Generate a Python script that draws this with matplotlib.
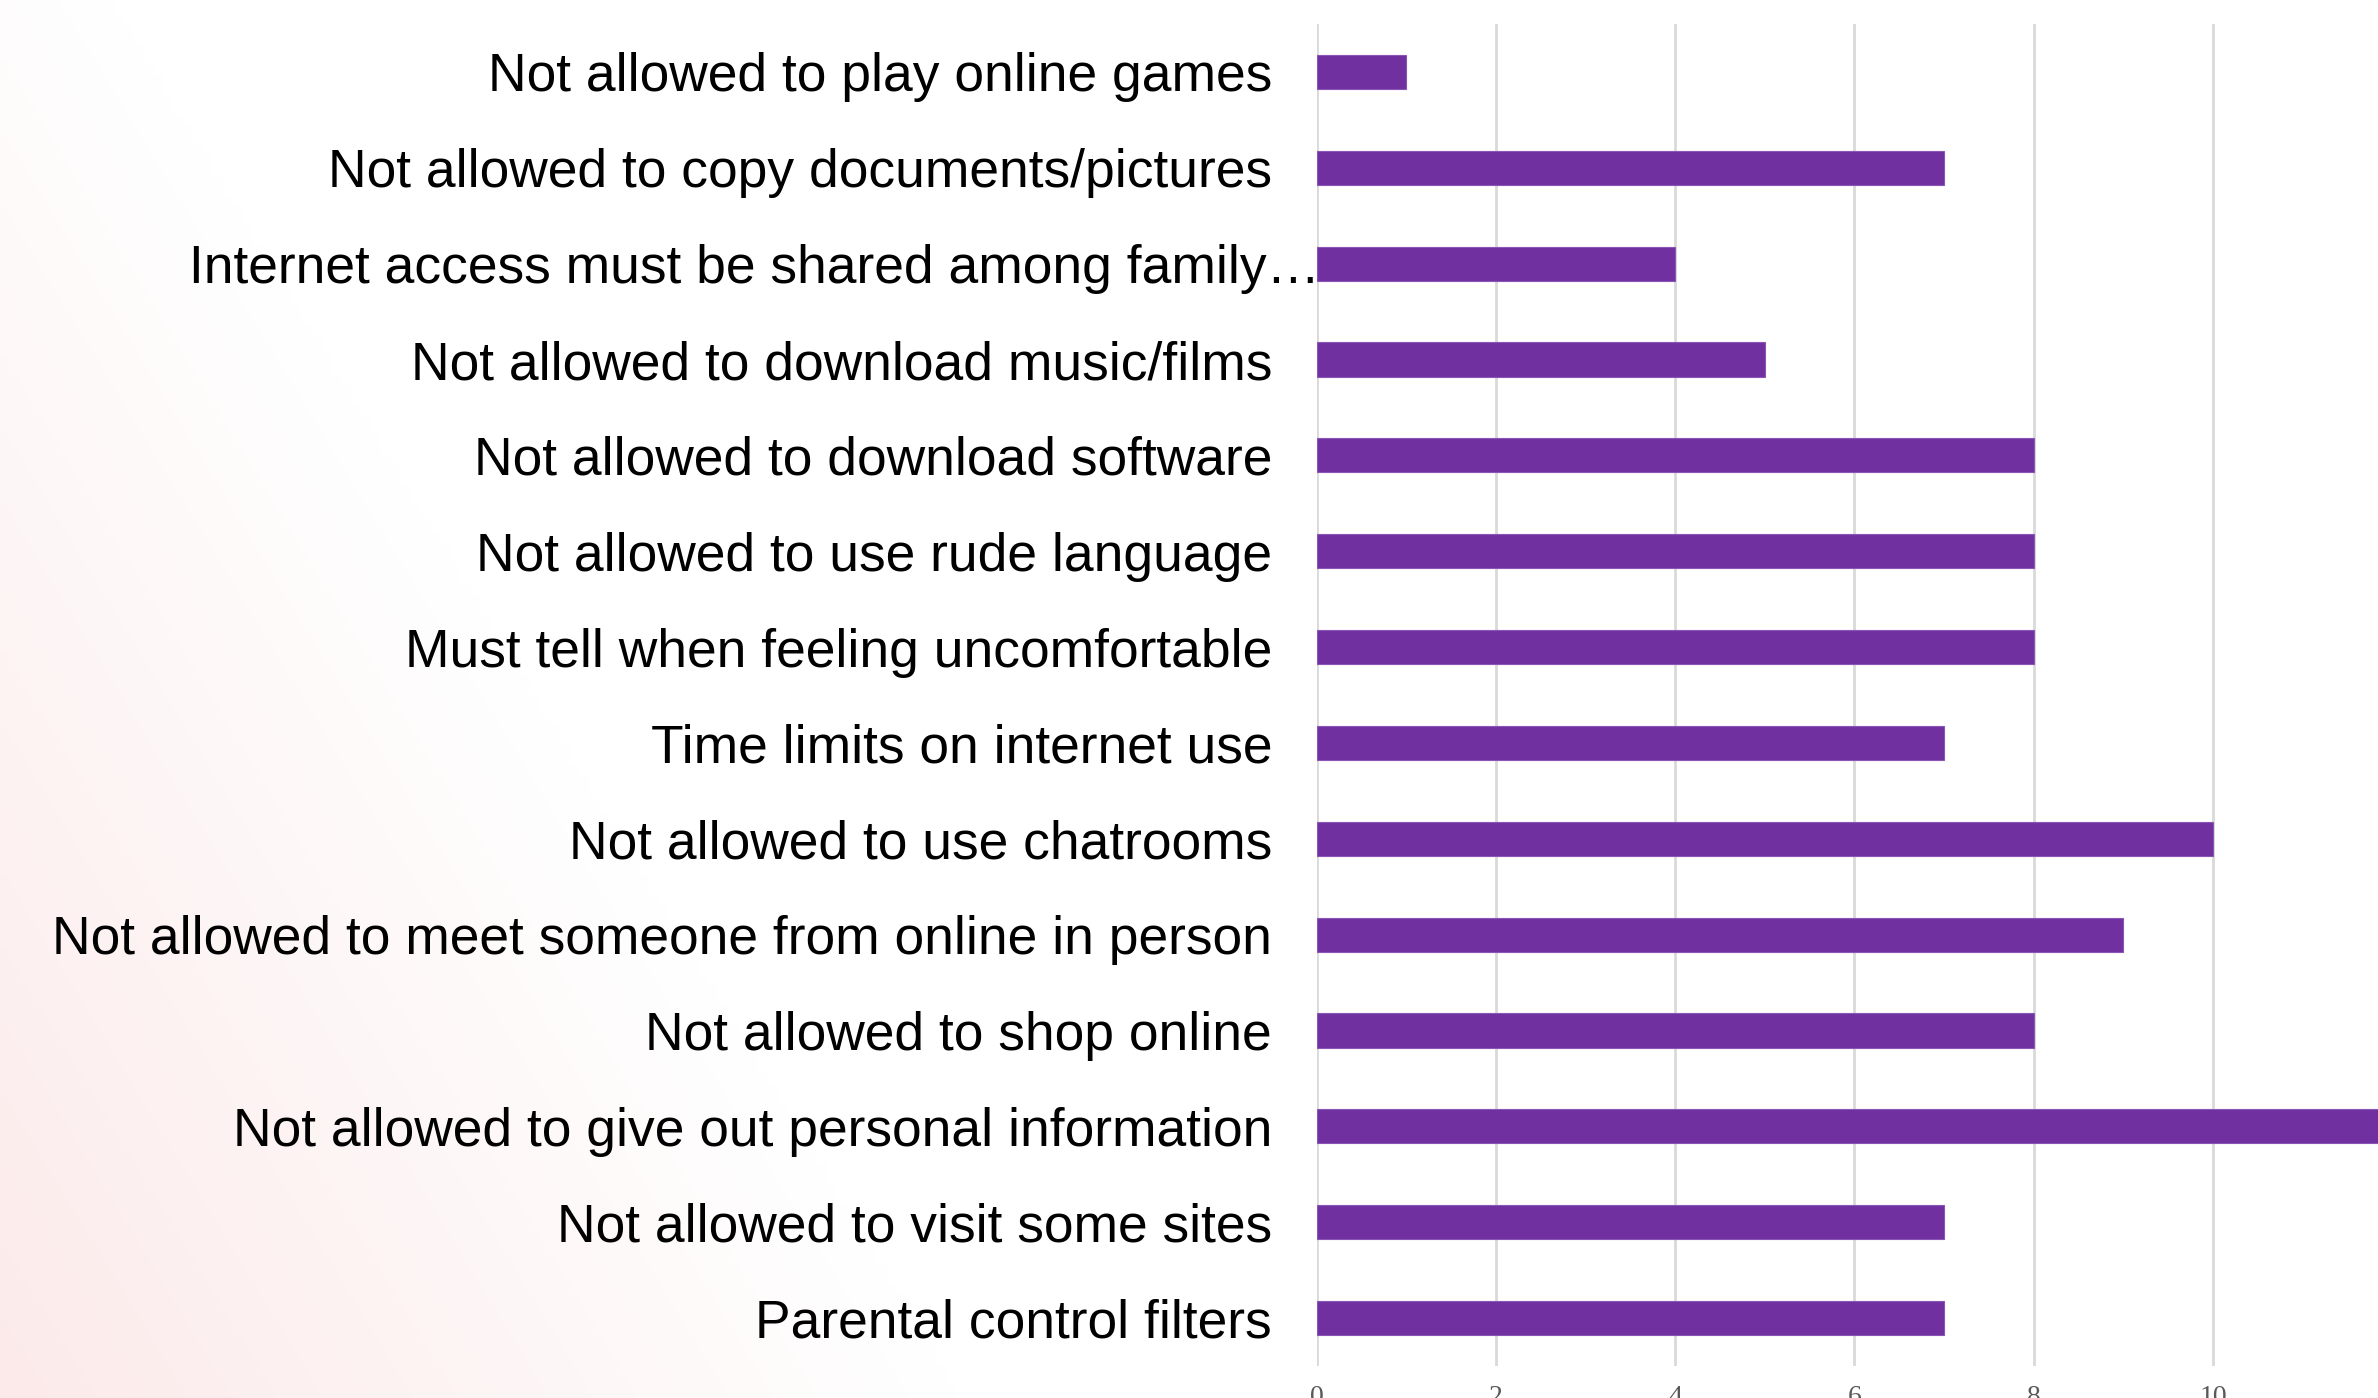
import numpy as np
import matplotlib
matplotlib.use('Agg')
import matplotlib.pyplot as plt
from matplotlib.transforms import ScaledTranslation

# 数据（从上到下）
labels = [
    'Not allowed to play online games',
    'Not allowed to copy documents/pictures',
    'Internet access must be shared among family\u2026',
    'Not allowed to download music/films',
    'Not allowed to download software',
    'Not allowed to use rude language',
    'Must tell when feeling uncomfortable',
    'Time limits on internet use',
    'Not allowed to use chatrooms',
    'Not allowed to meet someone from online in person',
    'Not allowed to shop online',
    'Not allowed to give out personal information',
    'Not allowed to visit some sites',
    'Parental control filters',
]
values = [1, 7, 4, 5, 8, 8, 8, 7, 10, 9, 8, 12, 7, 7]
x_ticks = [0, 2, 4, 6, 8, 10]

BAR_COLOR = '#7030a0'

fig = plt.figure(figsize=(23.78, 13.98), dpi=100)

# 背景：左下角淡粉色渐变
bg = fig.add_axes([0, 0, 1, 1], zorder=0)
h, w = 140, 240
u = np.linspace(0, 1, w)[None, :]
v = np.linspace(1, 0, h)[:, None]  # 1 = top
wt = np.clip(1 - (u / 0.40 + v / 1.12), 0, 1)
pink = np.array([252, 234, 234]) / 255.0
img = 1 - wt[..., None] * (1 - pink)
bg.imshow(img, aspect='auto', extent=[0, 1, 0, 1], interpolation='bilinear')
bg.set_axis_off()

ax = fig.add_axes([1316.5 / 2378, 32 / 1398, 1 - 1316.5 / 2378, (1398 - 24 - 32) / 1398], zorder=1)
ax.patch.set_alpha(0)

y = np.arange(len(labels))
ax.barh(y, values, height=0.355, color=BAR_COLOR, edgecolor='#8a55b5', linewidth=0.8, zorder=3)

ax.set_xlim(0, 11.84)
ax.set_ylim(len(labels) - 0.5, -0.5)
ax.set_yticks(y)
ax.set_yticklabels(labels, fontsize=38.4, family=['Liberation Sans', 'DejaVu Sans'], color='black')
ax.set_xticks(x_ticks)
ax.set_xticklabels([str(t) for t in x_ticks], fontsize=20, family=['Liberation Serif', 'DejaVu Serif'], color='#595959')
ax.tick_params(axis='y', length=0, pad=32)
ax.tick_params(axis='x', length=0, pad=14)
ax.grid(axis='x', color='#d9d9d9', linewidth=2, zorder=0)
ax.set_axisbelow(True)
for s in ax.spines.values():
    s.set_visible(False)

# 截断的长标签向右移动
lab = ax.get_yticklabels()[2]
lab.set_transform(lab.get_transform() + ScaledTranslation(0.48, 0, fig.dpi_scale_trans))

fig.savefig('out.png', dpi=100)
